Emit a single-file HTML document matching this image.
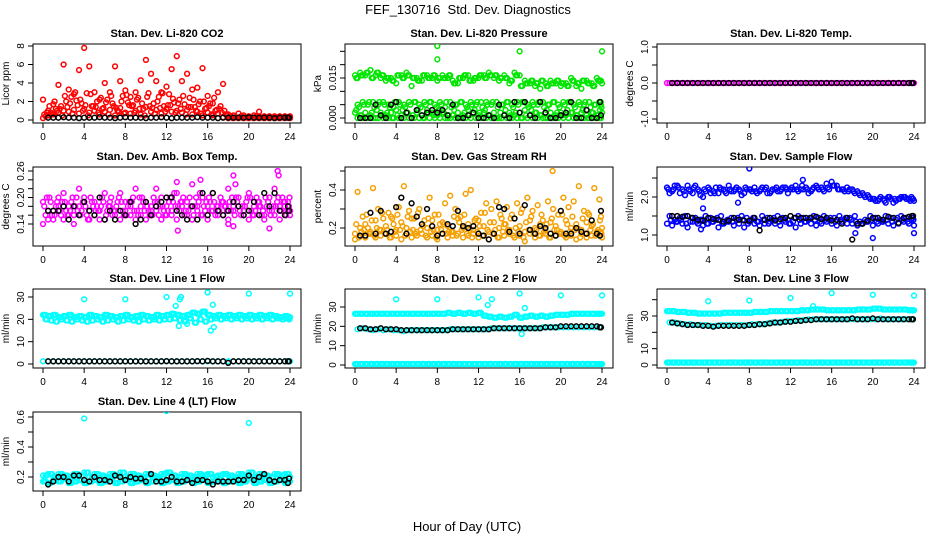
<!DOCTYPE html>
<html><head><meta charset="utf-8"><style>
html,body{margin:0;padding:0;background:#fff}
svg{display:block}
text{font-family:"Liberation Sans",Arial,sans-serif}
</style></head><body>
<svg id="chart" width="936" height="540" viewBox="0 0 936 540" xmlns="http://www.w3.org/2000/svg">
<rect width="936" height="540" fill="#fff"/>
<text x="468" y="14" font-size="13" text-anchor="middle" style="white-space:pre">FEF_130716  Std. Dev. Diagnostics</text>
<text x="467" y="531" font-size="13" text-anchor="middle">Hour of Day (UTC)</text>
</svg>
<script>
const t49=[0,0.5,1,1.5,2,2.5,3,3.5,4,4.5,5,5.5,6,6.5,7,7.5,8,8.5,9,9.5,10,10.5,11,11.5,12,12.5,13,13.5,14,14.5,15,15.5,16,16.5,17,17.5,18,18.5,19,19.5,20,20.5,21,21.5,22,22.5,23,23.5,24];
const t49h=[0.25,0.75,1.25,1.75,2.25,2.75,3.25,3.75,4.25,4.75,5.25,5.75,6.25,6.75,7.25,7.75,8.25,8.75,9.25,9.75,10.25,10.75,11.25,11.75,12.25,12.75,13.25,13.75,14.25,14.75,15.25,15.75,16.25,16.75,17.25,17.75,18.25,18.75,19.25,19.75,20.25,20.75,21.25,21.75,22.25,22.75,23.25,23.75,23.9];
const t49q=[0.125,0.625,1.125,1.625,2.125,2.625,3.125,3.625,4.125,4.625,5.125,5.625,6.125,6.625,7.125,7.625,8.125,8.625,9.125,9.625,10.125,10.625,11.125,11.625,12.125,12.625,13.125,13.625,14.125,14.625,15.125,15.625,16.125,16.625,17.125,17.625,18.125,18.625,19.125,19.625,20.125,20.625,21.125,21.625,22.125,22.625,23.125,23.625,23.8];
const t49r=[0.375,0.875,1.375,1.875,2.375,2.875,3.375,3.875,4.375,4.875,5.375,5.875,6.375,6.875,7.375,7.875,8.375,8.875,9.375,9.875,10.375,10.875,11.375,11.875,12.375,12.875,13.375,13.875,14.375,14.875,15.375,15.875,16.375,16.875,17.375,17.875,18.375,18.875,19.375,19.875,20.375,20.875,21.375,21.875,22.375,22.875,23.375,23.875,23.95];
const tBlack=[0.5,1,1.5,2,2.5,3,3.5,4,4.5,5,5.5,6,6.5,7,7.5,8,8.5,9,9.5,10,10.5,11,11.5,12,12.5,13,13.5,14,14.5,15,15.5,16,16.5,17,17.5,18,18.5,19,19.5,20,20.5,21,21.5,22,22.5,23,23.5,23.8,23.9];
const xTicks=[0,4,8,12,16,20,24];

// Panel 1 CO2
const co2A=[2.2,1.0,1.7,3.8,6.0,3.3,2.8,5.4,7.8,5.8,3.0,2.2,4.0,3.0,5.8,4.2,3.2,2.5,3.0,4.3,6.5,5.0,4.2,3.0,3.6,5.5,6.9,4.2,5.0,3.3,3.5,5.6,2.6,1.8,3.0,3.9,0.6,0.5,0.7,0.5,0.4,0.5,0.9,0.4,0.4,0.4,0.4,0.4,0.4];
const co2B=[0.4,0.8,1.2,1.5,2.0,2.5,2.1,1.8,2.9,1.5,2.0,1.2,2.2,1.8,1.0,2.6,1.9,1.6,2.4,1.2,2.9,1.8,2.5,1.5,2.8,1.9,2.2,1.7,2.4,1.4,2.0,1.2,1.8,1.0,1.5,0.6,0.4,0.3,0.4,0.3,0.3,0.4,0.3,0.3,0.3,0.3,0.3,0.3,0.3];
const co2C=[0.2,0.5,0.6,0.8,1.0,0.9,1.1,0.7,1.2,0.8,1.0,0.6,0.9,1.1,0.5,1.3,0.8,0.7,1.0,0.6,1.4,0.9,1.1,0.7,1.2,0.9,1.0,0.8,1.1,0.6,0.9,0.5,0.8,0.5,0.7,0.3,0.2,0.2,0.2,0.2,0.2,0.2,0.2,0.2,0.2,0.2,0.2,0.2,0.2];
const co2D=[0.6,1.5,2.0,1.2,2.6,1.8,3.0,2.2,1.6,2.8,1.4,2.4,1.9,2.6,1.3,2.0,2.7,1.5,2.2,1.8,2.5,1.3,2.0,2.9,1.6,2.3,1.8,2.6,1.4,2.2,1.7,2.0,1.5,2.4,1.2,1.0,0.3,0.3,0.3,0.3,0.3,0.3,0.3,0.3,0.3,0.3,0.3,0.3,0.3];
const co2E=[0.8,0.6,1.0,0.5,1.4,0.7,1.6,1.0,0.5,1.5,0.8,1.3,0.6,1.5,0.9,0.7,1.6,0.8,1.2,0.5,1.5,0.7,1.3,0.9,1.6,0.8,1.2,0.6,1.4,1.0,0.7,1.3,0.6,1.1,0.8,0.5,0.25,0.25,0.25,0.25,0.25,0.25,0.25,0.25,0.25,0.25,0.25,0.25,0.25];
const co2K=[0.25,0.25,0.25,0.3,0.25,0.25,0.2,0.25,0.25,0.25,0.3,0.25,0.25,0.2,0.25,0.3,0.25,0.25,0.25,0.2,0.25,0.25,0.3,0.25,0.2,0.25,0.25,0.25,0.25,0.3,0.25,0.25,0.25,0.2,0.25,0.25,0.25,0.25,0.25,0.3,0.25,0.25,0.25,0.25,0.2,0.25,0.25,0.25,0.25];
const co2Ticks=[0,2,4,6,8];
const co2Labels=["0","2","4","6","8"];

// Panel 2 Pressure
const prU=[0.016,0.017,0.016,0.018,0.016,0.015,0.014,0.015,0.013,0.016,0.017,0.012,0.015,0.014,0.016,0.015,0.014,0.016,0.015,0.014,0.013,0.015,0.016,0.014,0.015,0.016,0.017,0.015,0.014,0.016,0.013,0.017,0.016,0.014,0.013,0.012,0.011,0.013,0.014,0.013,0.012,0.013,0.015,0.012,0.011,0.014,0.013,0.015,0.013];
const prU2=[0.015,0.016,0.017,0.015,0.017,0.016,0.015,0.014,0.016,0.015,0.016,0.015,0.014,0.016,0.015,0.016,0.015,0.015,0.016,0.013,0.015,0.016,0.014,0.015,0.016,0.015,0.016,0.016,0.015,0.015,0.014,0.016,0.012,0.013,0.014,0.013,0.014,0.012,0.013,0.014,0.013,0.012,0.014,0.013,0.014,0.013,0.012,0.014,0.014];
const prM=[0.005,0.006,0.005,0.006,0.005,0.006,0.005,0.004,0.006,0.005,0.006,0.006,0.005,0.006,0.006,0.005,0.006,0.004,0.006,0.005,0.006,0.005,0.006,0.005,0.006,0.006,0.005,0.006,0.005,0.006,0.005,0.006,0.006,0.005,0.006,0.005,0.006,0.005,0.006,0.005,0.006,0.006,0.005,0.006,0.005,0.006,0.005,0.006,0.005];
const prM2=[0.004,0.005,0.006,0.004,0.006,0.005,0.004,0.006,0.005,0.004,0.005,0.006,0.004,0.005,0.006,0.004,0.005,0.006,0.004,0.005,0.006,0.004,0.005,0.006,0.004,0.005,0.006,0.004,0.005,0.006,0.004,0.005,0.006,0.004,0.005,0.006,0.004,0.005,0.006,0.004,0.005,0.006,0.004,0.005,0.006,0.004,0.005,0.006,0.004];
const prL=[0.002,0.001,0.002,0.001,0.0,0.002,0.001,0.002,0.003,0.001,0.002,0.0,0.002,0.001,0.003,0.002,0.001,0.002,0.0,0.001,0.002,0.001,0.003,0.002,0.001,0.002,0.001,0.002,0.0,0.001,0.002,0.001,0.002,0.003,0.001,0.002,0.001,0.0,0.002,0.001,0.002,0.001,0.002,0.001,0.002,0.001,0.002,0.001,0.002];
const prL2=[0.003,0.001,0.0,0.002,0.003,0.001,0.002,0.0,0.001,0.003,0.002,0.001,0.003,0.0,0.002,0.001,0.003,0.002,0.001,0.003,0.0,0.002,0.001,0.003,0.002,0.003,0.001,0.0,0.002,0.003,0.001,0.002,0.0,0.001,0.003,0.002,0.001,0.003,0.0,0.002,0.001,0.003,0.002,0.001,0.003,0.0,0.002,0.001,0.003];
const prZ=[0,0,0,0,0,0,0,0,0,0,0,0,0,0,0,0,0,0,0,0,0,0,0,0,0,0,0,0,0,0,0,0,0,0,0,0,0,0,0,0,0,0,0,0,0,0,0,0,0];
const prK=[0,0,0,0.005,0.001,0,0.005,0.006,0,0.002,0,0.003,0.001,0.002,0.003,0.002,0.003,0.001,0.005,0,0,0.001,0.002,0,0,0.001,0,0.005,0.001,0,0.006,0.002,0.006,0.001,0,0.006,0.002,0,0,0.001,0.002,0.006,0,0,0.003,0,0,0.006,0.001];
const prOutT=[8,8,16,24];
const prOutV=[0.027,0.022,0.025,0.025];
const prTicks=[0,0.005,0.01,0.015,0.02,0.025];
const prLabels=["0.000","","","0.015","",""];

// Panel 3 Temp
const tmM=[0,0,0,0,0,0,0,0,0,0,0,0,0,0,0,0,0,0,0,0,0,0,0,0,0,0,0,0,0,0,0,0,0,0,0,0,0,0,0,0,0,0,0,0,0,0,0,0,0];
const tmK=[0,0,0,0,0,0,0,0,0,0,0,0,0,0,0,0,0,0,0,0,0,0,0,0,0,0,0,0,0,0,0,0,0,0,0,0,0,0,0,0,0,0,0,0,0,0,0,0,0];
const tmTicks=[-1,-0.5,0,0.5,1];
const tmLabels=["-1.0","","0.0","","1.0"];

// Panel 4 Amb box temp
const amA=[0.19,0.17,0.15,0.20,0.21,0.18,0.16,0.22,0.20,0.17,0.19,0.15,0.21,0.18,0.17,0.21,0.19,0.16,0.22,0.18,0.19,0.17,0.22,0.20,0.18,0.16,0.21,0.18,0.19,0.23,0.17,0.20,0.18,0.21,0.16,0.19,0.22,0.18,0.20,0.17,0.21,0.18,0.19,0.16,0.20,0.22,0.18,0.19,0.17];
const amB=[0.16,0.19,0.18,0.16,0.17,0.19,0.20,0.17,0.16,0.19,0.18,0.20,0.17,0.16,0.19,0.17,0.18,0.20,0.16,0.19,0.17,0.20,0.16,0.17,0.19,0.21,0.17,0.16,0.20,0.18,0.21,0.17,0.19,0.16,0.20,0.18,0.17,0.20,0.16,0.19,0.17,0.20,0.16,0.18,0.17,0.19,0.20,0.17,0.18];
const amC=[0.14,0.15,0.17,0.18,0.15,0.16,0.14,0.18,0.19,0.15,0.16,0.17,0.15,0.19,0.16,0.15,0.17,0.18,0.15,0.16,0.15,0.18,0.17,0.15,0.16,0.17,0.15,0.19,0.16,0.15,0.18,0.16,0.15,0.17,0.18,0.16,0.15,0.17,0.18,0.16,0.15,0.16,0.18,0.15,0.17,0.16,0.15,0.18,0.16];
const amD=[0.18,0.20,0.16,0.17,0.19,0.17,0.18,0.16,0.18,0.20,0.17,0.18,0.16,0.20,0.18,0.19,0.16,0.19,0.17,0.20,0.18,0.16,0.19,0.18,0.17,0.19,0.18,0.20,0.17,0.16,0.19,0.18,0.20,0.19,0.17,0.18,0.19,0.16,0.17,0.18,0.20,0.17,0.18,0.20,0.16,0.18,0.17,0.16,0.19];
const amE=[0.20,0.16,0.19,0.19,0.16,0.20,0.17,0.19,0.15,0.18,0.17,0.19,0.18,0.17,0.20,0.16,0.19,0.17,0.20,0.17,0.16,0.19,0.18,0.16,0.20,0.18,0.19,0.17,0.18,0.20,0.16,0.19,0.17,0.18,0.19,0.17,0.20,0.19,0.18,0.20,0.16,0.19,0.17,0.19,0.18,0.20,0.19,0.17,0.20];
const amK=[0.17,0.17,0.17,0.18,0.15,0.18,0.16,0.19,0.17,0.16,0.20,0.15,0.17,0.15,0.17,0.16,0.19,0.14,0.15,0.19,0.16,0.18,0.19,0.20,0.20,0.17,0.16,0.15,0.18,0.15,0.21,0.16,0.21,0.17,0.16,0.17,0.19,0.18,0.16,0.17,0.19,0.16,0.21,0.18,0.21,0.17,0.16,0.18,0.17];
const amOutT=[13,15.3,18.5,18.7,22.8,22.9,22,13.1,18,18.5];
const amOutV=[0.235,0.24,0.25,0.23,0.26,0.25,0.13,0.125,0.14,0.135];
const amTicks=[0.14,0.16,0.18,0.20,0.22,0.24,0.26];
const amLabels=["0.14","","","0.20","","","0.26"];

// Panel 5 RH
const rhA=[0.39,0.26,0.20,0.41,0.30,0.25,0.28,0.22,0.31,0.42,0.29,0.25,0.30,0.24,0.36,0.27,0.22,0.33,0.37,0.30,0.26,0.38,0.40,0.25,0.28,0.33,0.30,0.34,0.25,0.31,0.27,0.33,0.30,0.36,0.29,0.32,0.24,0.34,0.30,0.27,0.36,0.31,0.34,0.42,0.29,0.27,0.41,0.35,0.26];
const rhB=[0.17,0.20,0.22,0.18,0.24,0.19,0.21,0.26,0.19,0.23,0.20,0.25,0.18,0.22,0.20,0.24,0.19,0.23,0.21,0.18,0.25,0.20,0.22,0.19,0.24,0.21,0.18,0.23,0.20,0.22,0.19,0.25,0.21,0.18,0.24,0.20,0.22,0.19,0.23,0.21,0.18,0.24,0.20,0.22,0.19,0.23,0.21,0.18,0.20];
const rhC=[0.14,0.16,0.15,0.17,0.15,0.16,0.17,0.15,0.16,0.14,0.17,0.15,0.16,0.17,0.15,0.16,0.14,0.17,0.15,0.16,0.17,0.15,0.16,0.17,0.15,0.16,0.14,0.17,0.15,0.16,0.17,0.15,0.16,0.13,0.17,0.15,0.16,0.17,0.15,0.16,0.17,0.15,0.16,0.14,0.17,0.15,0.16,0.17,0.15];
const rhD=[0.22,0.18,0.27,0.24,0.20,0.28,0.19,0.25,0.27,0.21,0.26,0.19,0.28,0.21,0.25,0.19,0.27,0.22,0.18,0.26,0.23,0.27,0.19,0.24,0.21,0.28,0.23,0.19,0.27,0.22,0.25,0.20,0.28,0.23,0.26,0.19,0.27,0.22,0.25,0.19,0.27,0.22,0.26,0.20,0.25,0.28,0.22,0.19,0.24];
const rhE=[0.15,0.19,0.17,0.16,0.19,0.17,0.15,0.18,0.19,0.16,0.18,0.17,0.19,0.16,0.18,0.15,0.19,0.17,0.18,0.16,0.19,0.17,0.15,0.18,0.16,0.19,0.17,0.15,0.18,0.19,0.16,0.18,0.15,0.19,0.17,0.16,0.18,0.15,0.19,0.17,0.16,0.18,0.19,0.15,0.17,0.19,0.16,0.18,0.17];
const rhK=[0.16,0.16,0.28,0.17,0.29,0.17,0.18,0.31,0.36,0.17,0.33,0.26,0.22,0.30,0.21,0.16,0.17,0.22,0.21,0.29,0.21,0.20,0.21,0.17,0.16,0.14,0.17,0.31,0.30,0.18,0.25,0.17,0.32,0.19,0.17,0.21,0.20,0.17,0.16,0.29,0.17,0.17,0.20,0.18,0.17,0.24,0.17,0.16,0.29];
const rhOutT=[19.2];
const rhOutV=[0.5];
const rhTicks=[0.2,0.3,0.4,0.5];
const rhLabels=["0.2","","0.4",""];

// Panel 6 Sample flow
const sfU=[2.25,2.15,2.3,2.2,2.3,2.1,2.2,2.0,2.25,2.15,2.1,2.2,2.3,2.15,2.2,2.1,2.2,2.25,2.15,2.2,2.1,2.2,2.15,2.25,2.2,2.3,2.2,2.25,2.15,2.3,2.25,2.35,2.4,2.3,2.2,2.25,2.2,2.15,2.1,2.05,1.95,1.9,1.95,2.0,1.85,1.95,2.0,1.95,1.9];
const sfM=[2.1,2.3,2.1,2.05,2.15,2.3,2.05,2.15,2.1,2.25,2.2,2.1,2.15,2.25,2.05,2.2,2.15,2.1,2.25,2.1,2.2,2.15,2.25,2.1,2.2,2.15,2.2,2.1,2.25,2.2,2.15,2.2,2.3,2.2,2.15,2.2,2.1,2.05,2.0,1.95,1.9,2.0,1.85,1.95,1.9,2.0,1.95,2.0,1.95];
const sfU2=[2.2,2.2,2.25,2.15,2.2,2.25,2.15,2.2,2.2,2.1,2.25,2.15,2.2,2.2,2.15,2.25,2.2,2.15,2.2,2.25,2.15,2.25,2.2,2.2,2.25,2.2,2.3,2.2,2.2,2.25,2.2,2.25,2.3,2.2,2.2,2.15,2.15,2.1,2.05,2.0,1.95,1.95,1.9,2.0,1.95,1.95,2.0,1.9,1.95];
const sfL1=[1.5,1.4,1.45,1.5,1.35,1.45,1.4,1.5,1.45,1.4,1.5,1.35,1.45,1.4,1.5,1.45,1.4,1.35,1.5,1.45,1.4,1.5,1.45,1.4,1.35,1.5,1.45,1.4,1.5,1.45,1.5,1.4,1.45,1.5,1.4,1.45,1.5,1.35,1.4,1.5,1.45,1.4,1.5,1.45,1.4,1.5,1.45,1.4,1.5];
const sfL2=[1.3,1.25,1.35,1.3,1.2,1.35,1.3,1.25,1.3,1.35,1.2,1.3,1.35,1.25,1.3,1.2,1.35,1.3,1.25,1.3,1.35,1.3,1.25,1.35,1.3,1.2,1.3,1.35,1.3,1.25,1.3,1.35,1.3,1.25,1.35,1.3,1.3,1.25,1.3,1.35,1.25,1.3,1.35,1.3,1.25,1.3,1.35,1.3,1.25];
const sfL3=[1.4,1.35,1.4,1.3,1.45,1.35,1.4,1.3,1.35,1.45,1.3,1.4,1.35,1.45,1.4,1.3,1.45,1.35,1.4,1.3,1.45,1.35,1.4,1.3,1.45,1.4,1.35,1.45,1.4,1.35,1.4,1.45,1.35,1.4,1.45,1.4,1.35,1.3,1.35,1.4,1.35,1.35,1.4,1.35,1.45,1.4,1.35,1.45,1.4];
const sfK=[1.5,1.5,1.48,1.5,1.45,1.4,1.38,1.45,1.42,1.4,1.35,1.38,1.45,1.4,1.38,1.38,1.45,1.12,1.4,1.45,1.38,1.42,1.45,1.5,1.45,1.45,1.45,1.45,1.48,1.42,1.45,1.38,1.4,1.3,1.45,0.88,1.3,1.3,1.38,1.45,1.45,1.4,1.48,1.45,1.32,1.45,1.48,1.5,1.5];
const sfOutT=[8,13.2,6.9,3.5,18.3,20,24,3.3];
const sfOutV=[2.75,2.45,1.85,1.7,1.05,0.92,1.05,1.15];
const sfTicks=[1.0,1.5,2.0,2.5];
const sfLabels=["1.0","","2.0",""];

// Panel 7 Line 1
const l1A=[22,21.5,22,21,21.5,22,21,21.5,21,22,21.5,21,22,21.5,21,21.5,22,21,21.5,22,21.5,21,22,21.5,22,22.5,22,21.5,22,23,22.5,23.5,22,21.5,22,21.5,22,21.5,22,21.5,22,21.5,22,21.5,22,21.5,21,21.5,21];
const l1B=[20,19.5,19,20,19.5,19,20,19.5,19,19.5,20,19,19.5,20,19,19.5,20,19.5,19,20,19.5,20,19.5,20,20,20.5,19.5,19,20.5,18.5,20,19,20,20.5,20,20.5,20,20.5,20,20.5,20,20.5,20,20.5,20,20.5,20,20.5,20];
const l1C=[1.2,1.2,1.2,1.2,1.2,1.2,1.2,1.2,1.2,1.2,1.2,1.2,1.2,1.2,1.2,1.2,1.2,1.2,1.2,1.2,1.2,1.2,1.2,1.2,1.2,1.2,1.2,1.2,1.2,1.2,1.2,1.2,1.2,1.2,1.2,1.2,1.2,1.2,1.2,1.2,1.2,1.2,1.2,1.2,1.2,1.2,1.2,1.2,1.2];
const l1K=[1.2,1.2,1.2,1.2,1.2,1.2,1.2,1.2,1.2,1.2,1.2,1.2,1.2,1.2,1.2,1.2,1.2,1.2,1.2,1.2,1.2,1.2,1.2,1.3,1.2,1.2,1.2,1.2,1.2,1.3,1.2,1.4,1.2,1.2,1.2,0.5,1.2,1.2,1.2,1.2,1.2,1.2,1.2,1.2,1.2,1.2,1.2,1.2,1.2];
const l1OutT=[4,8,12,13.3,13.4,12.9,16,16.5,16.3,16.6,20,24,13.2,14];
const l1OutV=[29,29,30,29,30,26,32,26.5,15,16.5,31.5,31.5,17,18];
const l1Ticks=[0,10,20,30];
const l1Labels=["0","10","20","30"];

// Panel 8 Line 2
const l2A=[26.5,26.5,26.5,26.5,26.5,26.5,26.5,26.5,26.5,26.5,26.5,26.5,26.5,26.5,26.5,26.5,26.5,26.5,27,26.5,27,26.5,27,26.5,27,25.5,25,24.5,25,24.5,25,26,24.5,25,25.5,25,25.5,25,25.5,26,26,26,26.5,26.5,26.5,26.5,26.5,26.5,26.5];
const l2B=[18.5,19,18.5,18,18.5,18,18.5,18,18,17.5,18,18,18,18,18,18,18,18,18.5,18.5,18.5,18.5,18.5,18.5,18.5,18.5,19,19,19,19,19,19,19,19,19,19,19.5,19.5,19.5,19.5,19.5,19.5,19.5,19.5,19.5,19.5,19.5,19.5,19.5];
const l2C=[0.5,0.5,0.5,0.5,0.5,0.5,0.5,0.5,0.5,0.5,0.5,0.5,0.5,0.5,0.5,0.5,0.5,0.5,0.5,0.5,0.5,0.5,0.5,0.5,0.5,0.5,0.5,0.5,0.5,0.5,0.5,0.5,0.5,0.5,0.5,0.5,0.5,0.5,0.5,0.5,0.5,0.5,0.5,0.5,0.5,0.5,0.5,0.5,0.5];
const l2K=[19,19,18.5,18.5,19,18.5,18.5,18.5,18,18,18,18,18,18,18,18,18,18,18.5,18.5,18.5,18.5,18.5,18.5,18.5,18.5,19,19,19,19,19,19,19,19,19,19,19.5,19.5,19.5,20,20,20,20,20,20,20,20,19.5,19.5];
const l2OutT=[4,8,12,13.3,12.9,16,16.5,16.2,20,24];
const l2OutV=[34,34,35,34,31,37,29.5,16,36,36];
const l2Ticks=[0,10,20,30];
const l2Labels=["0","10","20","30"];

// Panel 9 Line 3
const l3A=[33,33,32.5,32.5,32,32,31.5,31.5,31.5,31.5,31.5,32,32,32,32,32,32,32.5,32.5,32.5,33,33,33,33,33,33,33.5,33.5,34,34,34,33.5,33.5,33.5,33.5,33.5,33.5,34,34,34,34.5,34.5,34,34,34,34,34,33.5,33.5];
const l3B=[26,26,25.5,25,25,24.5,24.5,24.5,24,24,24.5,24.5,24.5,24.5,24.5,24.5,25,25,25,25.5,26,26,26.5,27,27,27.5,27.5,28,28,28,28,28,28,28,28,28,28,28,28,28,28,28.5,28,28,28,28,28,28,28];
const l3C=[1.5,1.5,1.5,1.5,1.5,1.5,1.5,1.5,1.5,1.5,1.5,1.5,1.5,1.5,1.5,1.5,1.5,1.5,1.5,1.5,1.5,1.5,1.5,1.5,1.5,1.5,1.5,1.5,1.5,1.5,1.5,1.5,1.5,1.5,1.5,1.5,1.5,1.5,1.5,1.5,1.5,1.5,1.5,1.5,1.5,1.5,1.5,1.5,1.5];
const l3K=[26,25.5,25,24.5,24.5,24.5,24,24,23.5,24,24,24,24,24,24,24.5,24.5,25,25,25.5,26,26,26.5,26.5,27,27,27.5,27.5,28,28,28,28,28,28,28,28.5,28,28,28,28.5,28,28,28,28,28,28,28,28,28];
const l3OutT=[4,8,12,14.2,16,20,24];
const l3OutV=[39,39.5,41,36,44,43,42.5];
const l3Ticks=[0,10,20,30,40];
const l3Labels=["0","10","","30",""];

// Panel 10 Line 4
const l4A=[0.21,0.22,0.20,0.22,0.21,0.20,0.22,0.21,0.23,0.20,0.22,0.21,0.20,0.22,0.21,0.23,0.20,0.22,0.21,0.20,0.22,0.21,0.20,0.22,0.23,0.21,0.20,0.22,0.21,0.20,0.22,0.21,0.22,0.20,0.21,0.22,0.21,0.20,0.22,0.21,0.23,0.20,0.22,0.21,0.20,0.22,0.21,0.22,0.20];
const l4B=[0.17,0.16,0.18,0.17,0.19,0.16,0.17,0.18,0.16,0.17,0.18,0.16,0.17,0.19,0.16,0.17,0.18,0.16,0.17,0.18,0.16,0.17,0.19,0.16,0.17,0.18,0.16,0.17,0.18,0.16,0.17,0.19,0.16,0.17,0.18,0.16,0.17,0.18,0.16,0.17,0.19,0.16,0.17,0.18,0.16,0.17,0.18,0.16,0.17];
const l4K=[0.15,0.17,0.20,0.20,0.17,0.21,0.21,0.18,0.17,0.20,0.18,0.18,0.17,0.21,0.20,0.18,0.20,0.19,0.19,0.17,0.22,0.17,0.17,0.18,0.20,0.17,0.17,0.18,0.16,0.18,0.18,0.17,0.15,0.17,0.17,0.17,0.17,0.18,0.18,0.21,0.18,0.20,0.22,0.18,0.17,0.18,0.18,0.16,0.19];
const l4OutT=[4,12,20];
const l4OutV=[0.59,0.64,0.56];
const l4Ticks=[0.2,0.3,0.4,0.5,0.6];
const l4Labels=["0.2","","0.4","","0.6"];

const NS="http://www.w3.org/2000/svg";
const svg=document.getElementById('chart');
const colLeft=[33,345,657], rowTop=[44,167,289,412], BW=268, BH=79;
function mk(tag,attrs,parent){const e=document.createElementNS(NS,tag);for(const k in attrs)e.setAttribute(k,attrs[k]);(parent||svg).appendChild(e);return e;}

function panel(o){
  const L=colLeft[o.col], T=rowTop[o.row];
  const g=mk('g',{});
  
  
  const x0=L+10, xs=247/24;
  const X=t=>x0+t*xs;
  const k=(o.p2-o.p1)/(o.v2-o.v1);
  const Y=v=>o.p1+(v-o.v1)*k;
  const title=mk('text',{x:L+BW/2,y:T-7,'font-size':11,'font-weight':'bold','text-anchor':'middle'},g);
  title.textContent=o.title;
  
  
  const box=mk('rect',{x:L,y:T,width:BW,height:BH,fill:'none',stroke:'#000','stroke-width':1},g);
  
  
  xTicks.forEach(t=>{
    mk('line',{x1:X(t),x2:X(t),y1:T+BH,y2:T+BH+5,stroke:'#000'},g);
    const tx=mk('text',{x:X(t),y:T+BH+17,'font-size':10,'text-anchor':'middle'},g);
    tx.textContent=String(t);
    
    
  });
  o.ticks.forEach((v,i)=>{
    const y=Y(v);
    mk('line',{x1:L-5,x2:L,y1:y,y2:y,stroke:'#000'},g);
    if(o.labels[i]){
      const tx=mk('text',{x:L-9,y:y,'font-size':10,'text-anchor':'middle',transform:`rotate(-90 ${L-9} ${y})`},g);
      tx.textContent=o.labels[i];
      
      
    }
  });
  const yt=mk('text',{x:L-24,y:T+BH/2,'font-size':10,'text-anchor':'middle',transform:`rotate(-90 ${L-24} ${T+BH/2})`},g);
  yt.textContent=o.ylab;
  
  
  const cid='clip'+o.row+o.col;
  const cp=mk('clipPath',{id:cid},g); mk('rect',{x:L,y:T,width:BW,height:BH},cp);
  const pg=mk('g',{'clip-path':`url(#${cid})`},g);
  o.series.forEach(s=>{
    const sg=mk('g',{fill:'none',stroke:s.c,'stroke-width':1.5},pg);
    
    
    s.v.forEach((v,i)=>{
      const c=mk('circle',{cx:X(s.t[i]),cy:Y(v),r:2.4},sg);
      
      
    });
  });
}
const R='#ff0000',G='#00e600',M='#ff00ff',O='#f5a000',B='#0000ff',C='#00ffff',K='#000000';
panel({name:'panel-co2',col:0,row:0,title:'Stan. Dev. Li-820 CO2',ylab:'Licor ppm',v1:0,p1:120,v2:8,p2:46,ticks:co2Ticks,labels:co2Labels,
 series:[{n:'co2-a',c:R,t:t49,v:co2A},{n:'co2-b',c:R,t:t49h,v:co2B},{n:'co2-c',c:R,t:t49,v:co2C},{n:'co2-d',c:R,t:t49q,v:co2D},{n:'co2-e',c:R,t:t49r,v:co2E},{n:'co2-black',c:K,t:tBlack,v:co2K}]});
panel({name:'panel-pressure',col:1,row:0,title:'Stan. Dev. Li-820 Pressure',ylab:'kPa',v1:0,p1:118,v2:0.015,p2:78,ticks:prTicks,labels:prLabels,
 series:[{n:'pr-upper',c:G,t:t49,v:prU},{n:'pr-upper2',c:G,t:t49h,v:prU2},{n:'pr-upper3',c:G,t:t49q,v:prU2},{n:'pr-mid',c:G,t:t49h,v:prM},{n:'pr-mid2',c:G,t:t49r,v:prM2},{n:'pr-low',c:G,t:t49,v:prL},{n:'pr-low2',c:G,t:t49q,v:prL2},{n:'pr-zero',c:G,t:t49h,v:prZ},{n:'pr-black',c:K,t:tBlack,v:prK},{n:'pr-outliers',c:G,t:prOutT,v:prOutV}]});
panel({name:'panel-temp',col:2,row:0,title:'Stan. Dev. Li-820 Temp.',ylab:'degrees C',v1:-1,p1:119,v2:1,p2:47,ticks:tmTicks,labels:tmLabels,
 series:[{n:'tm-magenta',c:M,t:t49,v:tmM},{n:'tm-magenta2',c:M,t:t49h,v:tmM},{n:'tm-black',c:K,t:tBlack,v:tmK}]});
panel({name:'panel-ambtemp',col:0,row:1,title:'Stan. Dev. Amb. Box Temp.',ylab:'degrees C',v1:0.14,p1:224,v2:0.26,p2:171,ticks:amTicks,labels:amLabels,
 series:[{n:'am-a',c:M,t:t49,v:amA},{n:'am-b',c:M,t:t49h,v:amB},{n:'am-c',c:M,t:t49,v:amC},{n:'am-d',c:M,t:t49q,v:amD},{n:'am-e',c:M,t:t49r,v:amE},{n:'am-outliers',c:M,t:amOutT,v:amOutV},{n:'am-black',c:K,t:tBlack,v:amK}]});
panel({name:'panel-rh',col:1,row:1,title:'Stan. Dev. Gas Stream RH',ylab:'percent',v1:0.2,p1:228,v2:0.4,p2:190,ticks:rhTicks,labels:rhLabels,
 series:[{n:'rh-a',c:O,t:t49h,v:rhA},{n:'rh-b',c:O,t:t49,v:rhB},{n:'rh-c',c:O,t:t49,v:rhC},{n:'rh-d',c:O,t:t49q,v:rhD},{n:'rh-e',c:O,t:t49r,v:rhE},{n:'rh-outliers',c:O,t:rhOutT,v:rhOutV},{n:'rh-black',c:K,t:tBlack,v:rhK}]});
panel({name:'panel-sampleflow',col:2,row:1,title:'Stan. Dev. Sample Flow',ylab:'ml/min',v1:1.0,p1:235,v2:2.0,p2:197,ticks:sfTicks,labels:sfLabels,
 series:[{n:'sf-upper',c:B,t:t49,v:sfU},{n:'sf-upper2',c:B,t:t49h,v:sfM},{n:'sf-upper3',c:B,t:t49q,v:sfU2},{n:'sf-low1',c:B,t:t49h,v:sfL1},{n:'sf-low2',c:B,t:t49,v:sfL2},{n:'sf-low3',c:B,t:t49r,v:sfL3},{n:'sf-outliers',c:B,t:sfOutT,v:sfOutV},{n:'sf-black',c:K,t:tBlack,v:sfK}]});
panel({name:'panel-line1',col:0,row:2,title:'Stan. Dev. Line 1 Flow',ylab:'ml/min',v1:0,p1:364,v2:30,p2:297,ticks:l1Ticks,labels:l1Labels,
 series:[{n:'l1-a',c:C,t:t49,v:l1A},{n:'l1-a2',c:C,t:t49h,v:l1A},{n:'l1-a3',c:C,t:t49r,v:l1B},{n:'l1-b',c:C,t:t49h,v:l1B},{n:'l1-b2',c:C,t:t49q,v:l1A},{n:'l1-c',c:C,t:t49,v:l1C},{n:'l1-outliers',c:C,t:l1OutT,v:l1OutV},{n:'l1-black',c:K,t:tBlack,v:l1K}]});
panel({name:'panel-line2',col:1,row:2,title:'Stan. Dev. Line 2 Flow',ylab:'ml/min',v1:0,p1:365,v2:30,p2:307,ticks:l2Ticks,labels:l2Labels,
 series:[{n:'l2-a',c:C,t:t49,v:l2A},{n:'l2-a2',c:C,t:t49h,v:l2A},{n:'l2-a3',c:C,t:t49q,v:l2A},{n:'l2-b',c:C,t:t49h,v:l2B},{n:'l2-c',c:C,t:t49,v:l2C},{n:'l2-c2',c:C,t:t49h,v:l2C},{n:'l2-c3',c:C,t:t49q,v:l2C},{n:'l2-outliers',c:C,t:l2OutT,v:l2OutV},{n:'l2-black',c:K,t:tBlack,v:l2K}]});
panel({name:'panel-line3',col:2,row:2,title:'Stan. Dev. Line 3 Flow',ylab:'ml/min',v1:0,p1:365,v2:30,p2:316,ticks:l3Ticks,labels:l3Labels,
 series:[{n:'l3-a',c:C,t:t49,v:l3A},{n:'l3-a2',c:C,t:t49h,v:l3A},{n:'l3-a3',c:C,t:t49q,v:l3A},{n:'l3-b',c:C,t:t49h,v:l3B},{n:'l3-c',c:C,t:t49,v:l3C},{n:'l3-c2',c:C,t:t49h,v:l3C},{n:'l3-c3',c:C,t:t49q,v:l3C},{n:'l3-outliers',c:C,t:l3OutT,v:l3OutV},{n:'l3-black',c:K,t:tBlack,v:l3K}]});
panel({name:'panel-line4',col:0,row:3,title:'Stan. Dev. Line 4 (LT) Flow',ylab:'ml/min',v1:0.2,p1:477,v2:0.6,p2:417,ticks:l4Ticks,labels:l4Labels,
 series:[{n:'l4-a',c:C,t:t49,v:l4A},{n:'l4-a2',c:C,t:t49h,v:l4A},{n:'l4-b',c:C,t:t49h,v:l4B},{n:'l4-b2',c:C,t:t49,v:l4B},{n:'l4-c',c:C,t:t49q,v:l4B},{n:'l4-d',c:C,t:t49r,v:l4A},{n:'l4-outliers',c:C,t:l4OutT,v:l4OutV},{n:'l4-black',c:K,t:tBlack,v:l4K}]});
</script>
</body></html>
